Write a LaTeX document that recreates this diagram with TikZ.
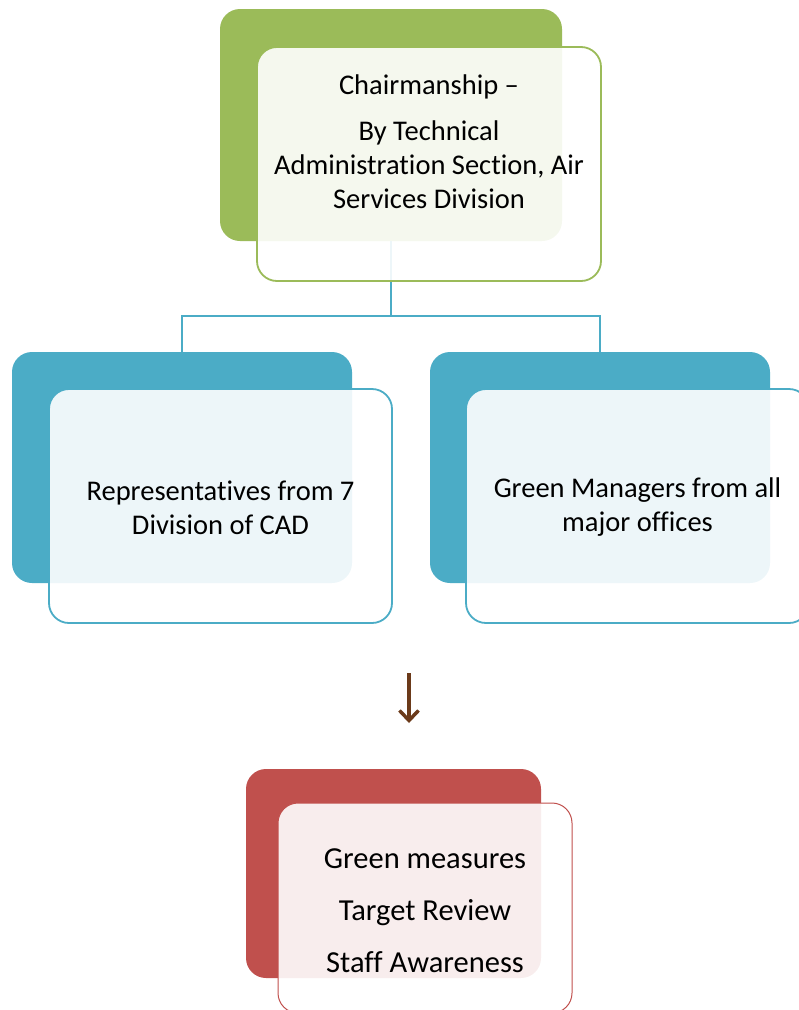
\documentclass[tikz,border=0pt]{standalone}
\usepackage{fontspec}
\setmainfont[Ligatures=NoCommon]{Carlito}
\usepackage{tikz}
\usetikzlibrary{arrows.meta,positioning}
\definecolor{BoxGreen}{HTML}{9BBB59}
\definecolor{BoxBlue}{HTML}{4BACC6}
\definecolor{BoxRed}{HTML}{C0504D}
\definecolor{ArrowBrown}{HTML}{6B3A1A}
\tikzstyle{backbox} = [rectangle, 
rounded corners=20pt, 
inner sep=0pt, 
draw=none]
\tikzstyle{frontbox} = [rectangle, 
rounded corners=20pt, 
inner sep=0pt, 
fill=white, 
fill opacity=0.9, 
line width=1.8pt]
\tikzstyle{boxtext} = [align=center, 
font=\fontsize{28.5}{34}\selectfont, 
text=black]
\tikzstyle{link} = [line width=2pt, draw=BoxBlue]
\tikzstyle{arrow} = [line width=3.5pt, draw=ArrowBrown, -{Straight Barb[length=10pt,width=19pt]}]

\begin{document}
\begin{tikzpicture}[x=1pt, y=-1pt]
                \useasboundingbox (0,0) rectangle (799,1010);
                % back boxes
                \node[backbox, fill=BoxGreen, minimum width=342pt, minimum height=232pt] (chairback) at (391,125) {};
                \node[backbox, fill=BoxBlue, minimum width=340pt, minimum height=231pt] (repback) at (182,467.5) {};
                \node[backbox, fill=BoxBlue, minimum width=340pt, minimum height=231pt] (gmback) at (600,467.5) {};
                \node[backbox, fill=BoxRed, minimum width=295pt, minimum height=209pt] (taskback) at (393.5,873.5) {};

                \coordinate (split) at (391,316);
                \draw[link] (chairback.south) -- (split);
                \draw[link] (split) -| (repback.north);
                \draw[link] (split) -| (gmback.north);

                % front boxes
                \node[frontbox, draw=BoxGreen, minimum width=344pt, minimum height=234pt] (chairfront) at (429,164) {};
                \node[frontbox, draw=BoxBlue, minimum width=343pt, minimum height=234pt] (repfront) at (220.5,506) {};
                \node[frontbox, draw=BoxBlue, minimum width=343pt, minimum height=234pt] (gmfront) at (637.5,506) {};
                \node[frontbox, draw=BoxRed, line width=1pt, minimum width=294pt, minimum height=210pt] (taskfront) at (425,908) {};

                \node[boxtext] (chairtxt) at ([yshift=22pt]chairfront.center) {Chairmanship –\\[12pt] By Technical\\ Administration Section, Air\\ Services Division};
                \node[boxtext] (reptxt) at ([yshift=-1.5pt]repfront.center) {Representatives from 7\\ Division of CAD};
                \node[boxtext] (gmtxt) at ([yshift=-1.5pt]gmfront.center) {Green Managers from all\\ major offices};
                \node[boxtext, font=\fontsize{30.5}{36}\selectfont] (tasktxt) at ([yshift=-3pt]taskfront.center) {Green measures\\[16pt] Target Review\\[16pt] Staff Awareness};

                \coordinate (arrtop) at (409,673);
                \coordinate (arrtip) at (409,723);
                \draw[arrow] (arrtop) -- (arrtip);
\end{tikzpicture}
\end{document}
